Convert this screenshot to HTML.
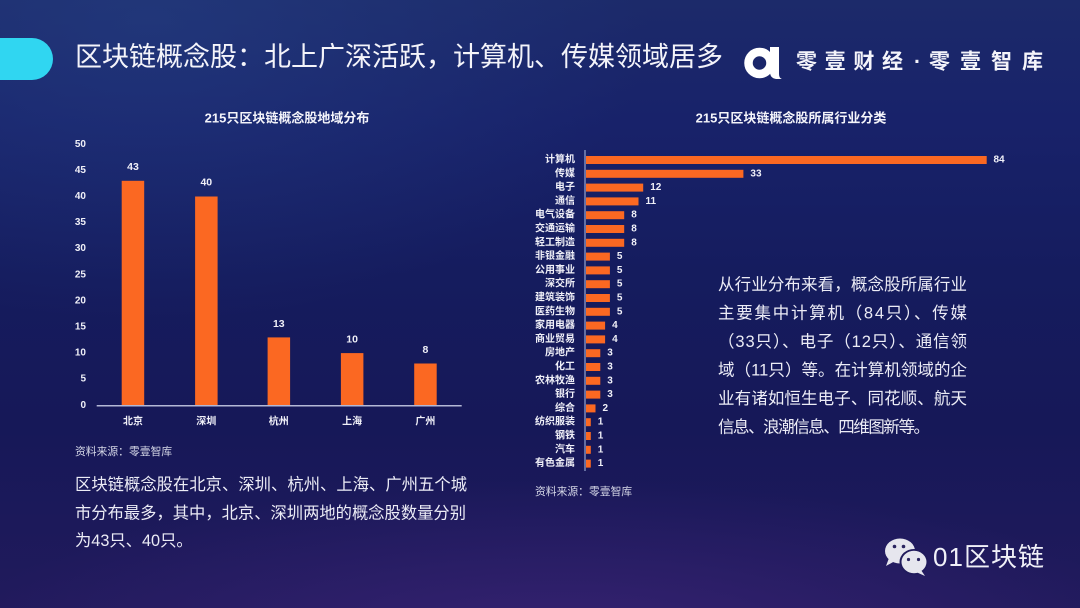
<!DOCTYPE html>
<html>
<head>
<meta charset="utf-8">
<style>
html,body{margin:0;padding:0;}
body{width:1080px;height:608px;overflow:hidden;position:relative;
background:
 radial-gradient(ellipse 600px 160px at 560px 640px, rgba(70,40,130,0.55), rgba(70,40,130,0) 100%),
 radial-gradient(ellipse 500px 300px at 150px 20px, rgba(40,70,140,0.45), rgba(40,70,140,0) 100%),
 linear-gradient(180deg,#1c2a6a 0%,#18226a 20%,#151c5e 45%,#161858 70%,#211a5c 100%);}
svg{position:absolute;left:0;top:0;}
text{font-family:"Liberation Sans","Noto Sans CJK SC",sans-serif;}
</style>
</head>
<body>
<svg width="1080" height="608" viewBox="0 0 1080 608" xmlns="http://www.w3.org/2000/svg">
  <!-- header -->
  <path d="M0 38 H32 A21 21 0 0 1 53 59 A21 21 0 0 1 32 80 H0 Z" fill="#30d6f1"/>
  <text x="75" y="57" font-size="27" fill="#f4f4fa" dominant-baseline="central" textLength="648" lengthAdjust="spacing">区块链概念股：北上广深活跃，计算机、传媒领域居多</text>

  <!-- logo -->
  <circle cx="759.5" cy="63" r="11" fill="none" stroke="#ffffff" stroke-width="8.5"/>
  <path d="M770 47 H779 V74 Q779 78 782 79 L776 79 Q770 78 770 72 Z" fill="#ffffff"/>
  <text x="796" y="62" font-size="21" fill="#f4f4fa" font-weight="bold" dominant-baseline="central" textLength="107" lengthAdjust="spacing">零壹财经</text>
  <text x="914" y="62" font-size="21" fill="#f4f4fa" font-weight="bold" dominant-baseline="central">·</text>
  <text x="929" y="62" font-size="21" fill="#f4f4fa" font-weight="bold" dominant-baseline="central" textLength="114" lengthAdjust="spacing">零壹智库</text>

  <!-- left chart -->
  <text x="287" y="118" font-size="13" font-weight="bold" fill="#f4f4fa" text-anchor="middle" dominant-baseline="central">215只区块链概念股地域分布</text>
  <g font-size="10" font-weight="bold" fill="#f0f0f8" text-anchor="end" dominant-baseline="central">
    <text x="86" y="405.3">0</text>
    <text x="86" y="379.2">5</text>
    <text x="86" y="353.1">10</text>
    <text x="86" y="327">15</text>
    <text x="86" y="300.9">20</text>
    <text x="86" y="274.8">25</text>
    <text x="86" y="248.7">30</text>
    <text x="86" y="222.6">35</text>
    <text x="86" y="196.5">40</text>
    <text x="86" y="170.4">45</text>
    <text x="86" y="144.3">50</text>
  </g>
  <g fill="#fb6822">
    <rect x="121.7" y="180.8" width="22.5" height="224.5"/>
    <rect x="195.1" y="196.5" width="22.5" height="208.8"/>
    <rect x="267.6" y="337.4" width="22.5" height="67.9"/>
    <rect x="340.9" y="353.1" width="22.5" height="52.2"/>
    <rect x="414.2" y="363.5" width="22.5" height="41.8"/>
  </g>
  <line x1="96.7" y1="405.8" x2="461.7" y2="405.8" stroke="#b4b8d6" stroke-width="1.5"/>
  <g font-size="10.5" font-weight="bold" fill="#f0f0f8" text-anchor="middle" dominant-baseline="central">
    <text x="133" y="166.8">43</text>
    <text x="206.3" y="182.5">40</text>
    <text x="278.8" y="323.8">13</text>
    <text x="352.1" y="339.5">10</text>
    <text x="425.4" y="350">8</text>
  </g>
  <g font-size="10" font-weight="bold" fill="#f0f0f8" text-anchor="middle" dominant-baseline="central">
    <text x="133" y="422">北京</text>
    <text x="206.3" y="422">深圳</text>
    <text x="278.8" y="422">杭州</text>
    <text x="352.1" y="422">上海</text>
    <text x="425.4" y="422">广州</text>
  </g>
  <text x="75" y="452" font-size="10.8" fill="#d4d6e6" dominant-baseline="central">资料来源：零壹智库</text>

  <g font-size="16.3" fill="#ececf6" dominant-baseline="central">
    <text x="75" y="485" textLength="392" lengthAdjust="spacing">区块链概念股在北京、深圳、杭州、上海、广州五个城</text>
    <text x="75" y="513.5" textLength="391" lengthAdjust="spacing">市分布最多，其中，北京、深圳两地的概念股数量分别</text>
    <text x="75" y="541">为43只、40只。</text>
  </g>

  <!-- right chart -->
  <text x="791" y="118" font-size="13" font-weight="bold" fill="#f4f4fa" text-anchor="middle" dominant-baseline="central">215只区块链概念股所属行业分类</text>
  <line x1="585" y1="150" x2="585" y2="471" stroke="#8e9cc8" stroke-width="1.3"/>
  <g fill="#fb6822">
    <rect x="586" y="156" width="400.7" height="8"/>
    <rect x="586" y="169.8" width="157.4" height="8"/>
    <rect x="586" y="183.6" width="57.2" height="8"/>
    <rect x="586" y="197.4" width="52.5" height="8"/>
    <rect x="586" y="211.2" width="38.2" height="8"/>
    <rect x="586" y="225" width="38.2" height="8"/>
    <rect x="586" y="238.8" width="38.2" height="8"/>
    <rect x="586" y="252.6" width="23.9" height="8"/>
    <rect x="586" y="266.4" width="23.9" height="8"/>
    <rect x="586" y="280.2" width="23.9" height="8"/>
    <rect x="586" y="294" width="23.9" height="8"/>
    <rect x="586" y="307.8" width="23.9" height="8"/>
    <rect x="586" y="321.6" width="19.1" height="8"/>
    <rect x="586" y="335.4" width="19.1" height="8"/>
    <rect x="586" y="349.2" width="14.3" height="8"/>
    <rect x="586" y="363" width="14.3" height="8"/>
    <rect x="586" y="376.8" width="14.3" height="8"/>
    <rect x="586" y="390.6" width="14.3" height="8"/>
    <rect x="586" y="404.4" width="9.5" height="8"/>
    <rect x="586" y="418.2" width="4.8" height="8"/>
    <rect x="586" y="432" width="4.8" height="8"/>
    <rect x="586" y="445.8" width="4.8" height="8"/>
    <rect x="586" y="459.6" width="4.8" height="8"/>
  </g>
  <g font-size="10" font-weight="bold" fill="#f0f0f8" text-anchor="end" dominant-baseline="central">
    <text x="575" y="160">计算机</text>
    <text x="575" y="173.8">传媒</text>
    <text x="575" y="187.6">电子</text>
    <text x="575" y="201.4">通信</text>
    <text x="575" y="215.2">电气设备</text>
    <text x="575" y="229">交通运输</text>
    <text x="575" y="242.8">轻工制造</text>
    <text x="575" y="256.6">非银金融</text>
    <text x="575" y="270.4">公用事业</text>
    <text x="575" y="284.2">深交所</text>
    <text x="575" y="298">建筑装饰</text>
    <text x="575" y="311.8">医药生物</text>
    <text x="575" y="325.6">家用电器</text>
    <text x="575" y="339.4">商业贸易</text>
    <text x="575" y="353.2">房地产</text>
    <text x="575" y="367">化工</text>
    <text x="575" y="380.8">农林牧渔</text>
    <text x="575" y="394.6">银行</text>
    <text x="575" y="408.4">综合</text>
    <text x="575" y="422.2">纺织服装</text>
    <text x="575" y="436">钢铁</text>
    <text x="575" y="449.8">汽车</text>
    <text x="575" y="463.6">有色金属</text>
  </g>
  <g font-size="10" font-weight="bold" fill="#f0f0f8" dominant-baseline="central">
    <text x="993.5" y="160">84</text>
    <text x="750.4" y="173.8">33</text>
    <text x="650.2" y="187.6">12</text>
    <text x="645.5" y="201.4">11</text>
    <text x="631.2" y="215.2">8</text>
    <text x="631.2" y="229">8</text>
    <text x="631.2" y="242.8">8</text>
    <text x="616.9" y="256.6">5</text>
    <text x="616.9" y="270.4">5</text>
    <text x="616.9" y="284.2">5</text>
    <text x="616.9" y="298">5</text>
    <text x="616.9" y="311.8">5</text>
    <text x="612.1" y="325.6">4</text>
    <text x="612.1" y="339.4">4</text>
    <text x="607.3" y="353.2">3</text>
    <text x="607.3" y="367">3</text>
    <text x="607.3" y="380.8">3</text>
    <text x="607.3" y="394.6">3</text>
    <text x="602.5" y="408.4">2</text>
    <text x="597.8" y="422.2">1</text>
    <text x="597.8" y="436">1</text>
    <text x="597.8" y="449.8">1</text>
    <text x="597.8" y="463.6">1</text>
  </g>
  <text x="535" y="492" font-size="10.8" fill="#d4d6e6" dominant-baseline="central">资料来源：零壹智库</text>

  <g font-size="16.5" fill="#ececf6" dominant-baseline="central">
    <text x="718" y="285" textLength="249" lengthAdjust="spacing">从行业分布来看，概念股所属行业</text>
    <text x="718" y="313.5" textLength="249" lengthAdjust="spacing">主要集中计算机（84只）、传媒</text>
    <text x="718" y="342" textLength="249" lengthAdjust="spacing">（33只）、电子（12只）、通信领</text>
    <text x="718" y="370.5" textLength="249" lengthAdjust="spacing">域（11只）等。在计算机领域的企</text>
    <text x="718" y="399" textLength="249" lengthAdjust="spacing">业有诸如恒生电子、同花顺、航天</text>
    <text x="718" y="427.5" textLength="212" lengthAdjust="spacing">信息、浪潮信息、四维图新等。</text>
  </g>

  <!-- wechat watermark -->
  <ellipse cx="900" cy="551" rx="15" ry="12.5" fill="#e6e6ee"/>
  <path d="M889 558 L886 566 L895 561 Z" fill="#e6e6ee"/>
  <ellipse cx="914" cy="562" rx="14.5" ry="13" fill="#201a5c"/>
  <ellipse cx="914" cy="562" rx="12.5" ry="11.2" fill="#e6e6ee"/>
  <path d="M921 570 L925 576 L916 572 Z" fill="#e6e6ee"/>
  <circle cx="894.5" cy="546.5" r="1.8" fill="#2a2460"/>
  <circle cx="903.5" cy="546.5" r="1.8" fill="#2a2460"/>
  <circle cx="908.5" cy="559.5" r="1.6" fill="#2a2460"/>
  <circle cx="918.5" cy="559.5" r="1.6" fill="#2a2460"/>
  <text x="933" y="557" font-size="26" fill="#f0f0f8" dominant-baseline="central" textLength="111" lengthAdjust="spacing">01区块链</text>
</svg>
</body>
</html>
